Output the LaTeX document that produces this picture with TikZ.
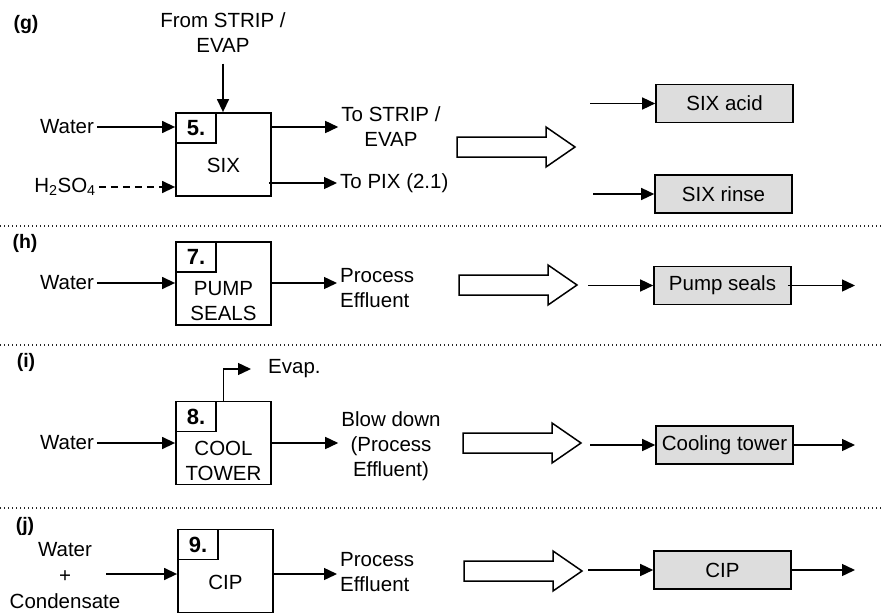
\documentclass[tikz,border=0pt]{standalone}
\usepackage{fontspec}
\setmainfont{Liberation Sans}
\usetikzlibrary{arrows.meta}
\definecolor{boxgray}{HTML}{DDDDDD}
\begin{document}
\begin{tikzpicture}[x=1pt,y=-1pt,
  every node/.style={font=\fontsize{20.5}{25}\selectfont, inner sep=3pt},
  txt/.style={align=center},
  ltxt/.style={align=left, anchor=west},
  tag/.style={font=\fontsize{19.5}{22}\selectfont\bfseries},
  unit/.style={draw, line width=1.8pt, minimum width=95pt, minimum height=83pt, inner sep=0pt},
  num/.style={draw, line width=1.8pt, minimum width=40pt, minimum height=30pt, anchor=north west,
              font=\fontsize{22}{24}\selectfont\bfseries, inner sep=0pt},
  stream/.style={draw, line width=1.6pt, fill=boxgray, minimum width=137pt, minimum height=38pt},
  flow/.style={line width=1.4pt, -{Triangle[length=13pt,width=12pt]}},
  sep/.style={line width=1.3pt, dash pattern=on 1.4pt off 2.6pt, color=black!85},
  hollow/.style={draw, line width=1.5pt, fill=white, line join=miter},
  bigarrow/.pic={\draw[hollow] (0,-10) -- (89,-10) -- (89,-20) -- (118,0) -- (89,20) -- (89,10) -- (0,10) -- cycle;},
]
\useasboundingbox (0,0) rectangle (884,613);

% section separators
\draw[sep] (0,226) -- (884,226);
\draw[sep] (0,345) -- (884,345);
\draw[sep] (0,508) -- (884,508);

% ---------------- (g) SIX ----------------
\node[tag] (tg) at (26,25) {(g)};
\node[unit] (b5) at (223.5,154.5) {};
\node[num] (n5) at (b5.north west) {5.};
\node (s5) at (223.5,165) {SIX};
\node[txt] (from) at (223,32.5) {From STRIP /\\EVAP};
\node (wg) at (67,127) {Water};
\node (acid) at (65,187) {H\textsubscript{2}SO\textsubscript{4}};
\node[txt] (tostrip) at (391,127) {To STRIP /\\EVAP};
\node[anchor=west] (topix) at (337,183) {To PIX (2.1)};
\draw[flow, shorten <=8pt] (from.south) -- (from.south |- b5.north);
\draw[flow] (wg) -- (wg -| b5.west);
\draw[flow, dash pattern=on 7pt off 5pt] (acid) -- (acid -| b5.west);
\draw[flow] (b5.east |- wg) -- (wg -| tostrip.west);
\draw[flow] ([xshift=-3pt]b5.east |- topix) -- (topix.west);

\pic at (457,147) {bigarrow};
\node[stream] (sixacid) at (724.5,103.5) {SIX acid};
\node[stream] (sixrinse) at (723.5,194) {SIX rinse};
\coordinate (ia) at (590,103.5);
\coordinate (ir) at (593,194);
\draw[flow] (ia) -- (sixacid.west);
\draw[flow] (ir) -- (sixrinse.west);

% ---------------- (h) pump seals ----------------
\node[tag] (th) at (25,243) {(h)};
\node[unit] (b7) at (223.5,283.5) {};
\node[num] (n7) at (b7.north west) {7.};
\node[txt] (s7) at (223.5,301) {PUMP\\SEALS};
\node (wh) at (67,283) {Water};
\node[ltxt] (peh) at (337,288) {Process\\Effluent};
\draw[flow] (wh) -- (wh -| b7.west);
\draw[flow] (b7.east |- wh) -- (wh -| peh.west);

\pic at (459,285) {bigarrow};
\node[stream] (pump) at (722.5,285.5) {Pump seals};
\coordinate (ih) at (588,285.5);
\coordinate (oh) at (855,285.5);
\draw[flow] (ih) -- (pump.west);
\draw[flow] ([xshift=-4pt]pump.east) -- (oh);

% ---------------- (i) cooling tower ----------------
\node[tag] (ti) at (26,362) {(i)};
\node[unit] (b8) at (223.5,443) {};
\node[num] (n8) at (b8.north west) {8.};
\node[txt] (s8) at (223.5,460.5) {COOL\\TOWER};
\node[anchor=west] (ev) at (265,369) {Evap.};
\node (wi) at (67,443) {Water};
\node[txt] (bd) at (391,446) {Blow down\\(Process\\Effluent)};
\draw[flow, shorten >=14pt] (b8.north) |- (ev.west);
\draw[flow] (wi) -- (wi -| b8.west);
\draw[flow] (b8.east |- wi) -- (wi -| bd.west);

\pic at (463,443) {bigarrow};
\node[stream] (cool) at (724.5,445) {Cooling tower};
\coordinate (ii) at (590,445);
\coordinate (oi) at (855,445);
\draw[flow] (ii) -- (cool.west);
\draw[flow] (cool.east) -- (oi);

% ---------------- (j) CIP ----------------
\node[tag] (tj) at (25,526) {(j)};
\node[unit] (b9) at (225.5,571) {};
\node[num] (n9) at (b9.north west) {9.};
\node (s9) at (225.5,582) {CIP};
\node[txt, font=\fontsize{20.5}{26}\selectfont] (wc) at (65,576) {Water\\+\\Condensate};
\coordinate (wcs) at (106,574);
\node[ltxt] (pej) at (337,572.5) {Process\\Effluent};
\draw[flow] (wcs) -- (wcs -| b9.west);
\draw[flow] (b9.east |- wcs) -- (wcs -| pej.west);

\pic at (464,571) {bigarrow};
\node[stream] (cip) at (722.5,570) {CIP};
\coordinate (ij) at (588,570);
\coordinate (oj) at (855,570);
\draw[flow] (ij) -- (cip.west);
\draw[flow] (cip.east) -- (oj);
\end{tikzpicture}
\end{document}
